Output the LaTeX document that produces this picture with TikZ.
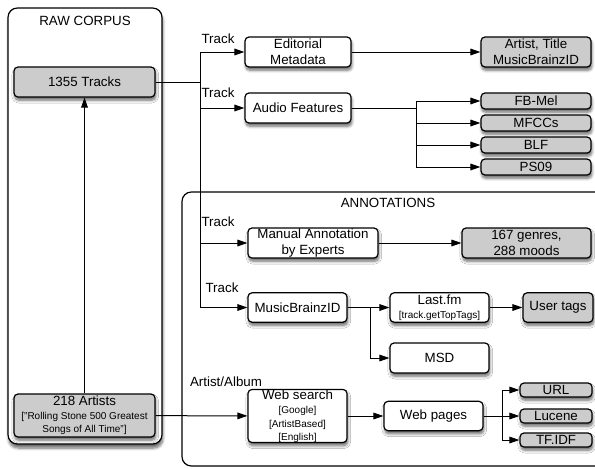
\documentclass[tikz,border=0pt]{standalone}
\usepackage{fontspec}
\setmainfont{Liberation Sans}
\usepackage{xcolor}
\usetikzlibrary{arrows.meta,shadows.blur}
\definecolor{boxgray}{RGB}{204,204,204}
\newcommand{\smalltxt}{\fontsize{7.5}{9.4}\selectfont}

\begin{document}
\begin{tikzpicture}[x=0.75pt, y=-0.75pt,
  box/.style={draw, line width=0.9pt, rounded corners=3pt, align=center, font=\fontsize{10}{12}\selectfont, inner sep=0pt, fill=white,
    blur shadow={shadow xshift=0.6pt, shadow yshift=-2.4pt, shadow blur steps=6, shadow opacity=60}},
  res/.style={box, fill=boxgray},
  frame/.style={draw, line width=0.9pt, rounded corners=7pt, fill=white, inner sep=0pt},
  lbl/.style={font=\fontsize{10}{12}\selectfont, inner sep=0pt},
  arr/.style={-{Triangle[length=7.5pt,width=5pt]}, line width=0.75pt},
  lin/.style={line width=0.75pt}]
\useasboundingbox (0,0) rectangle (595,468);
\node[frame, minimum width=321pt, minimum height=205.5pt] (annot) at (396,329) {};
\node[lbl] (annottitle) at (388,203) {ANNOTATIONS};
\node[frame, minimum width=115.5pt, minimum height=327pt,
  blur shadow={shadow xshift=0.6pt, shadow yshift=-3pt, shadow blur steps=6, shadow opacity=60}] (raw) at (85,226) {};
\node[lbl] (rawtitle) at (85,21) {RAW CORPUS};
\node[res, minimum width=105.75pt, minimum height=22.5pt] (tracks) at (84.5,82) {1355 Tracks};
\node[res, minimum width=105.75pt, minimum height=32.25pt] (artists) at (84.5,415.5) {218 Artists\\[-1.5pt]{\smalltxt ["Rolling Stone 500 Greatest}\\[-2pt]{\smalltxt Songs of All Time"]}};
\node[box, minimum width=79.5pt, minimum height=22.5pt] (editorial) at (298,52) {Editorial\\Metadata};
\node[box, minimum width=79.5pt, minimum height=22.5pt] (audio) at (298,108) {Audio Features};
\node[res, minimum width=82.5pt, minimum height=22.5pt] (artisttitle) at (536,52) {Artist, Title\\MusicBrainzID};
\node[res, minimum width=82.5pt, minimum height=12pt] (fbmel) at (536,101) {FB-Mel};
\node[res, minimum width=82.5pt, minimum height=12pt] (mfcc) at (536,123) {MFCCs};
\node[res, minimum width=82.5pt, minimum height=12pt] (blf) at (536,145) {BLF};
\node[res, minimum width=82.5pt, minimum height=12pt] (ps09) at (536,167) {PS09};
\node[box, minimum width=97.5pt, minimum height=22.5pt] (manual) at (313,243) {Manual Annotation\\by Experts};
\node[res, minimum width=96.75pt, minimum height=22.5pt] (genres) at (526.5,243) {167 genres,\\288 moods};
\node[box, minimum width=74.25pt, minimum height=22pt] (mbid) at (297.5,307.5) {MusicBrainzID};
\node[box, minimum width=74.25pt, minimum height=22pt] (lastfm) at (439.5,307.5) {Last.fm\\[-1.5pt]{\smalltxt [track.getTopTags]}};
\node[res, minimum width=52.5pt, minimum height=22pt] (usertags) at (558,307.5) {User tags};
\node[box, minimum width=74.25pt, minimum height=22.5pt] (msd) at (439.5,358) {MSD};
\node[box, minimum width=74.25pt, minimum height=39pt] (websearch) at (297.5,416) {Web search\\[-1pt]{\smalltxt [Google]}\\[-2pt]{\smalltxt [ArtistBased]}\\[-2pt]{\smalltxt [English]}};
\node[box, minimum width=74.25pt, minimum height=22pt] (webpages) at (433.5,416) {Web pages};
\node[res, minimum width=54pt, minimum height=10.5pt] (url) at (556,390) {URL};
\node[res, minimum width=54pt, minimum height=10.5pt] (lucene) at (556,416) {Lucene};
\node[res, minimum width=54pt, minimum height=10.5pt] (tfidf) at (556,440) {TF.IDF};
\node[lbl] (trk1) at (218,39) {Track};
\node[lbl] (trk2) at (218,93) {Track};
\node[lbl] (trk3) at (218,222) {Track};
\node[lbl] (trk4) at (222,288) {Track};
\node[lbl] (artalb) at (226,382) {Artist/Album};
\coordinate (trunk) at (200,82);
\coordinate (afork) at (416,108);
\coordinate (mfork) at (370,307.5);
\coordinate (wfork) at (502,416);
\draw[arr] (artists) -- (tracks);
\draw[lin] (tracks) -- (trunk);
\draw[arr] (trunk) |- (editorial);
\draw[arr] (trunk) |- (audio);
\draw[arr] (trunk) |- (manual);
\draw[arr] (trunk) |- (mbid);
\draw[arr] (editorial) -- (artisttitle);
\draw[lin] (audio) -- (afork);
\foreach \f in {fbmel,mfcc,blf,ps09}
  \draw[arr] (afork) |- (\f);
\draw[arr] (manual) -- (genres);
\draw[arr] (mbid) -- (lastfm);
\draw[arr] (mfork) |- (msd);
\draw[arr] (lastfm) -- (usertags);
\draw[arr] (artists) -- (websearch);
\draw[arr] (websearch) -- (webpages);
\draw[arr] (webpages) -- (lucene);
\draw[arr] (wfork) |- (url);
\draw[arr] (wfork) |- (tfidf);
\end{tikzpicture}
\end{document}
